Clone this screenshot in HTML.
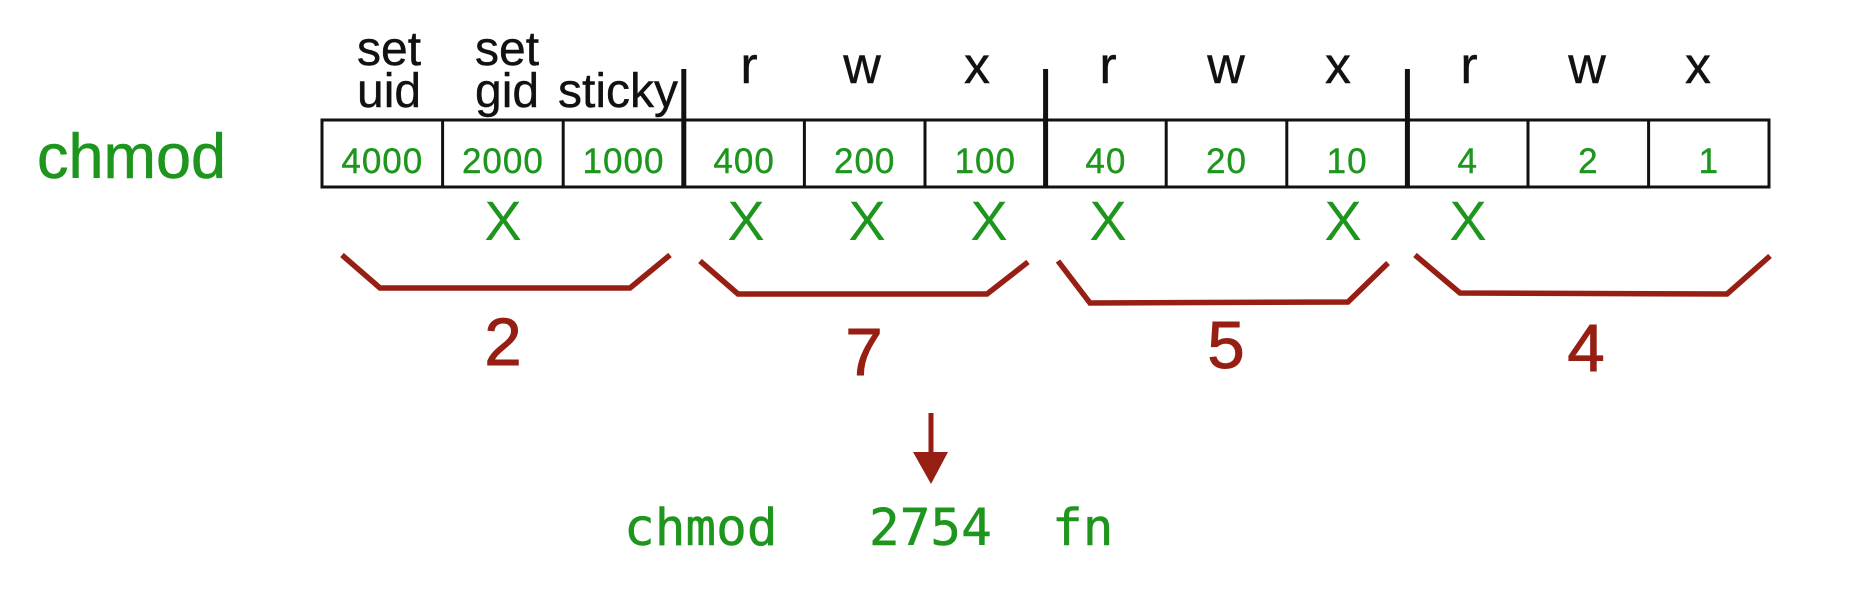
<!DOCTYPE html>
<html>
<head>
<meta charset="utf-8">
<style>
  html, body { margin: 0; padding: 0; background: #ffffff; }
  svg { display: block; }
  .sans { font-family: "Liberation Sans", "DejaVu Sans", sans-serif; }
  .mono { font-family: "DejaVu Sans Mono", "Liberation Mono", monospace; }
</style>
</head>
<body>
<svg width="1849" height="600" viewBox="0 0 1849 600" xmlns="http://www.w3.org/2000/svg">
  <rect x="0" y="0" width="1849" height="600" fill="#ffffff"/>

  <!-- left label -->
  <text x="37" y="178" class="sans" font-size="63" fill="#1e961e" stroke="#1e961e" stroke-width="0.6">chmod</text>

  <!-- header labels -->
  <g class="sans" font-size="48" fill="#111111" stroke="#111111" stroke-width="0.4">
    <text x="357" y="65">set</text>
    <text x="357" y="107">uid</text>
    <text x="475" y="65">set</text>
    <text x="475" y="107">gid</text>
    <text x="558" y="107">sticky</text>
  </g>
  <g class="sans" font-size="52" fill="#111111" stroke="#111111" stroke-width="0.4" text-anchor="middle">
    <text x="749" y="83">r</text>
    <text x="862" y="83">w</text>
    <text x="977" y="83">x</text>
    <text x="1108" y="83">r</text>
    <text x="1226" y="83">w</text>
    <text x="1338" y="83">x</text>
    <text x="1469" y="83">r</text>
    <text x="1587" y="83">w</text>
    <text x="1698" y="83">x</text>
  </g>

  <!-- table -->
  <g stroke="#111111" fill="none">
    <rect x="322" y="120" width="1447" height="67" stroke-width="3"/>
    <line x1="442.6" y1="120" x2="442.6" y2="187" stroke-width="3"/>
    <line x1="563.2" y1="120" x2="563.2" y2="187" stroke-width="3"/>
    <line x1="804.4" y1="120" x2="804.4" y2="187" stroke-width="3"/>
    <line x1="925" y1="120" x2="925" y2="187" stroke-width="3"/>
    <line x1="1166.2" y1="120" x2="1166.2" y2="187" stroke-width="3"/>
    <line x1="1286.8" y1="120" x2="1286.8" y2="187" stroke-width="3"/>
    <line x1="1528" y1="120" x2="1528" y2="187" stroke-width="3"/>
    <line x1="1648.6" y1="120" x2="1648.6" y2="187" stroke-width="3"/>
    <!-- thick separators -->
    <line x1="683.8" y1="69" x2="683.8" y2="188" stroke-width="5"/>
    <line x1="1045.6" y1="69" x2="1045.6" y2="188" stroke-width="5"/>
    <line x1="1407.4" y1="69" x2="1407.4" y2="188" stroke-width="5"/>
  </g>

  <!-- cell values -->
  <g class="sans" font-size="35" fill="#1e961e" stroke="#1e961e" stroke-width="0.4" text-anchor="middle" letter-spacing="1">
    <text x="382.3" y="173">4000</text>
    <text x="502.9" y="173">2000</text>
    <text x="623.5" y="173">1000</text>
    <text x="744.1" y="173">400</text>
    <text x="864.7" y="173">200</text>
    <text x="985.3" y="173">100</text>
    <text x="1105.9" y="173">40</text>
    <text x="1226.5" y="173">20</text>
    <text x="1347.1" y="173">10</text>
    <text x="1467.7" y="173">4</text>
    <text x="1588.3" y="173">2</text>
    <text x="1708.9" y="173">1</text>
  </g>

  <!-- X marks -->
  <g class="sans" font-size="56" fill="#1e961e" text-anchor="middle">
    <text x="503" y="240">X</text>
    <text x="746" y="240">X</text>
    <text x="867" y="240">X</text>
    <text x="989" y="240">X</text>
    <text x="1108" y="240">X</text>
    <text x="1343" y="240">X</text>
    <text x="1468" y="240">X</text>
  </g>

  <!-- braces -->
  <g stroke="#961e12" stroke-width="5.5" fill="none" stroke-linejoin="miter">
    <polyline points="342,255 380,288 630,288 670,255"/>
    <polyline points="700,261 738,294 987,294 1028,262"/>
    <polyline points="1058,261 1090,303 1348,302 1388,263"/>
    <polyline points="1415,255 1460,293 1727,294 1770,256"/>
  </g>

  <!-- group values -->
  <g class="sans" font-size="67" fill="#961e12" stroke="#961e12" stroke-width="1" text-anchor="middle">
    <text x="503" y="365">2</text>
    <text x="864" y="375">7</text>
    <text x="1226" y="368">5</text>
    <text x="1586" y="371">4</text>
  </g>

  <!-- arrow -->
  <line x1="931" y1="413" x2="931" y2="456" stroke="#961e12" stroke-width="5"/>
  <polygon points="913,452 948,452 931,484" fill="#961e12"/>

  <!-- command -->
  <g class="mono" font-size="51" fill="#1e961e" stroke="#1e961e" stroke-width="0.5">
    <text x="624" y="545">chmod</text>
    <text x="869" y="545">2754</text>
    <text x="1052" y="545">fn</text>
  </g>
</svg>
</body>
</html>
